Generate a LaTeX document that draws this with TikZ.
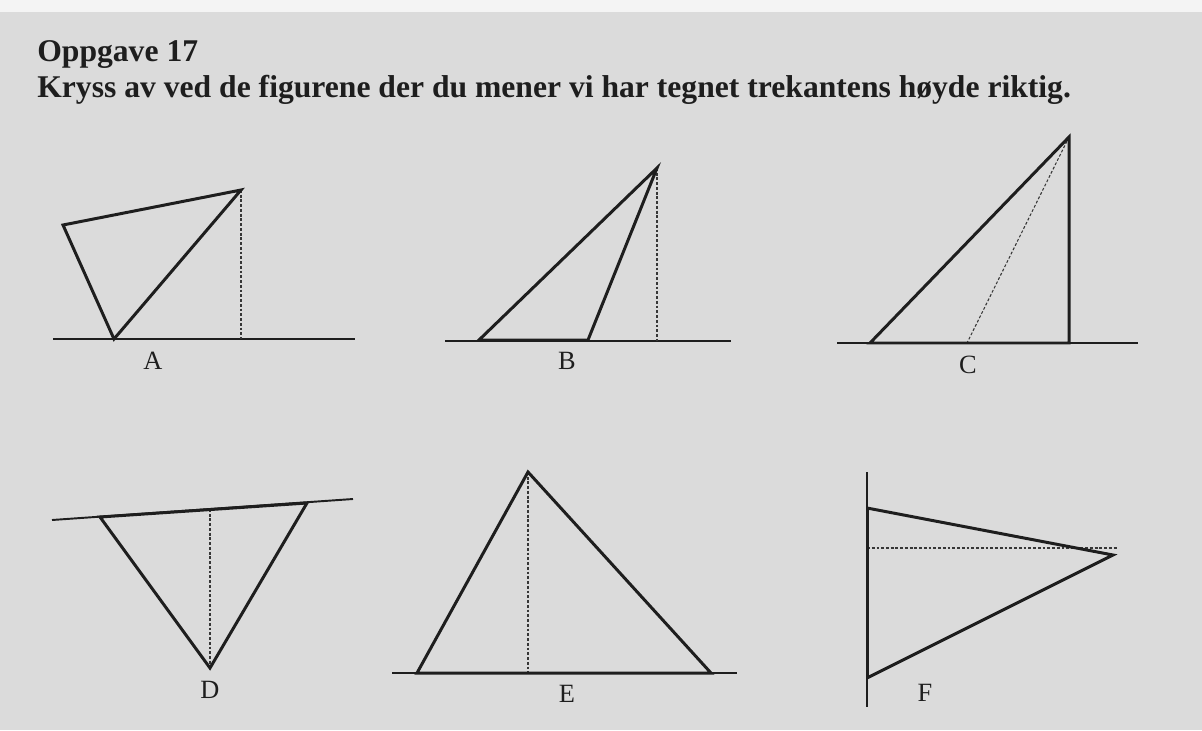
\documentclass[tikz,border=0pt]{standalone}
\usepackage{fontspec}
\setmainfont{Liberation Serif}
\usetikzlibrary{positioning}
\definecolor{PaperGrey}{RGB}{219,219,219}
\definecolor{PaperTop}{RGB}{244,244,244}
\definecolor{InkBlack}{RGB}{30,30,30}
\definecolor{InkDash}{RGB}{55,55,55}
\tikzset{
  side/.style={draw=InkBlack,line width=1.7pt,line join=miter},
  baseln/.style={draw=InkBlack,line width=1.1pt},
  height/.style={draw=InkDash,line width=0.6pt,dash pattern=on 1.6pt off 1.1pt},
  letter/.style={font=\fontsize{15}{18}\selectfont,text=InkBlack,inner sep=0pt},
  heading/.style={font=\fontsize{18}{24}\selectfont\bfseries,text=InkBlack,
    inner sep=0pt,anchor=base west,align=left}
}

\begin{document}
\begin{tikzpicture}[x=0.02cm,y=-0.02cm]
  % paper
  \fill[PaperTop] (0,0) rectangle (1202,730);
  \fill[PaperGrey] (0,12) rectangle (1202,730);
  \useasboundingbox (0,0) rectangle (1202,730);

  % heading
  \node[heading] (title) at (37,61) {Oppgave 17};
  \node[heading] (task) at (37,97) {Kryss av ved de figurene der du mener vi har tegnet trekantens høyde riktig.};

  % A
  \coordinate (a1) at (63,225);
  \coordinate (a2) at (241,190);
  \coordinate (a3) at (114,339);
  \coordinate (aL) at (53,339);
  \coordinate (aR) at (355,339);
  \coordinate (aH) at (241,339);
  \draw[baseln] (aL) -- (aR);
  \draw[height] (a2) -- (aH);
  \draw[side] (a1) -- (a2) -- (a3) -- cycle;
  \node[letter] (labA) at (153,361) {A};

  % B
  \coordinate (b1) at (479,340);
  \coordinate (b2) at (588,340);
  \coordinate (b3) at (657,168);
  \coordinate (bL) at (445,341);
  \coordinate (bR) at (731,341);
  \coordinate (bH) at (657,341);
  \draw[baseln] (bL) -- (bR);
  \draw[height] (b3) -- (bH);
  \draw[side] (b1) -- (b2) -- (b3) -- cycle;
  \node[letter] (labB) at (567,361) {B};

  % C
  \coordinate (c1) at (870,343);
  \coordinate (c2) at (1069,343);
  \coordinate (c3) at (1069,137);
  \coordinate (cL) at (837,343);
  \coordinate (cR) at (1138,343);
  \coordinate (cH) at (967,343);
  \draw[baseln] (cL) -- (cR);
  \draw[height] (c3) -- (cH);
  \draw[side] (c1) -- (c2) -- (c3) -- cycle;
  \node[letter] (labC) at (968,365) {C};

  % D
  \coordinate (dL) at (52,520);
  \coordinate (dR) at (353,499);
  \coordinate (d1) at (100,517);
  \coordinate (d2) at (307,503);
  \coordinate (d3) at (210,668);
  \coordinate (dH) at (210,509);
  \draw[baseln] (dL) -- (dR);
  \draw[height] (dH) -- (d3);
  \draw[side] (d1) -- (d2) -- (d3) -- cycle;
  \node[letter] (labD) at (210,690) {D};

  % E
  \coordinate (e1) at (417,673);
  \coordinate (e2) at (711,673);
  \coordinate (e3) at (528,472);
  \coordinate (eL) at (392,673);
  \coordinate (eR) at (737,673);
  \coordinate (eH) at (528,673);
  \draw[baseln] (eL) -- (eR);
  \draw[height] (e3) -- (eH);
  \draw[side] (e1) -- (e2) -- (e3) -- cycle;
  \node[letter] (labE) at (567,694) {E};

  % F
  \coordinate (fT) at (867,472);
  \coordinate (fB) at (867,707);
  \coordinate (f1) at (867,508);
  \coordinate (f2) at (867,678);
  \coordinate (f3) at (1113,555);
  \coordinate (fH) at (867,548);
  \coordinate (fE) at (1117,548);
  \draw[baseln] (fT) -- (fB);
  \draw[height] (fH) -- (fE);
  \draw[side] (f1) -- (f3) -- (f2);
  \draw[side] (f1) -- (f2);
  \node[letter] (labF) at (925,693) {F};
\end{tikzpicture}
\end{document}
